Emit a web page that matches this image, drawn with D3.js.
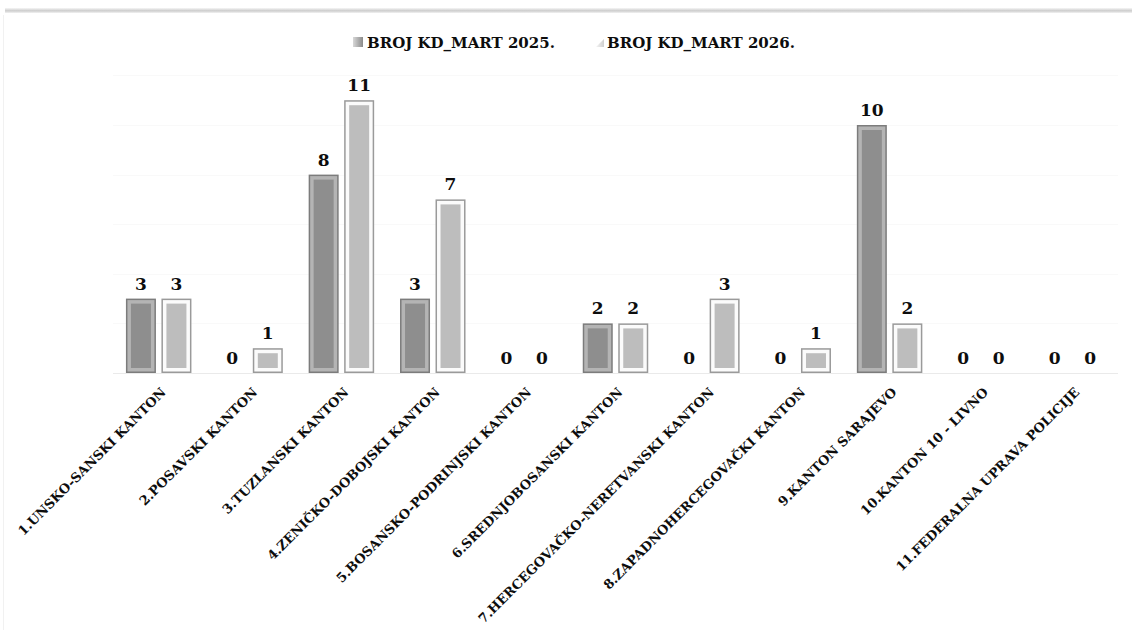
<!DOCTYPE html>
<html>
<head>
<meta charset="utf-8">
<script src="https://cdn.jsdelivr.net/npm/d3@7"></script>
<style>
  body { margin: 0; background: #fff; }
  svg { display: block; }
  text { font-family: "DejaVu Serif", serif; font-weight: bold; fill: #0d0d0d; }
</style>
</head>
<body>
<svg id="chart"></svg>
<script>
var categories = [
    "1.UNSKO-SANSKI KANTON",
    "2.POSAVSKI KANTON",
    "3.TUZLANSKI KANTON",
    "4.ZENIČKO-DOBOJSKI KANTON",
    "5.BOSANSKO-PODRINJSKI KANTON",
    "6.SREDNJOBOSANSKI KANTON",
    "7.HERCEGOVAČKO-NERETVANSKI KANTON",
    "8.ZAPADNOHERCEGOVAČKI KANTON",
    "9.KANTON SARAJEVO",
    "10.KANTON 10 - LIVNO",
    "11.FEDERALNA UPRAVA POLICIJE"
];
var seriesNames = ["BROJ KD_MART 2025.", "BROJ KD_MART 2026."];
var values2025 = [3, 0, 8, 3, 0, 2, 0, 0, 10, 0, 0];
var values2026 = [3, 1, 11, 7, 0, 2, 3, 1, 2, 0, 0];
var gridTicks = [0, 2, 4, 6, 8, 10, 12];

var width = 1132, height = 630;
var svg = d3.select("#chart").attr("width", width).attr("height", height);

var defs = svg.append("defs");
var topGrad = defs.append("linearGradient").attr("id", "topEdge")
    .attr("x1", 0).attr("y1", 0).attr("x2", 0).attr("y2", 1);
topGrad.append("stop").attr("offset", "0%").attr("stop-color", "#f6f6f6");
topGrad.append("stop").attr("offset", "55%").attr("stop-color", "#cdcdcd");
topGrad.append("stop").attr("offset", "100%").attr("stop-color", "#f2f2f2");

// frame edges
svg.append("rect").attr("x", 5).attr("y", 8).attr("width", width - 5).attr("height", 5)
    .attr("fill", "url(#topEdge)");
svg.append("line").attr("x1", 3.5).attr("x2", 3.5).attr("y1", 15).attr("y2", height)
    .attr("stroke", "#f1f1f1");

var x0 = d3.scaleBand().domain(categories).range([113, 1118]).paddingInner(0).paddingOuter(0);
var y = d3.scaleLinear().domain([0, 12]).range([373, 75.4]);

// gridlines
svg.append("g").selectAll("line").data(gridTicks).enter().append("line")
    .attr("x1", 113).attr("x2", 1118)
    .attr("y1", d => Math.round(y(d)) + 0.5).attr("y2", d => Math.round(y(d)) + 0.5)
    .attr("stroke", d => d === 0 ? "#eaeaea" : "#f9f9f9");

var barW = 30, gap = 5.5;
var styles = [
    { border: "#7c7c7c", band: "#b4b4b4", fill: "#8e8e8e" },
    { border: "#9a9a9a", band: "#fbfbfb", fill: "#bdbdbd" }
];

function drawBar(g, xLeft, v, s) {
    if (v <= 0) return;
    var top = y(v), h = y(0) - top;
    g.append("rect").attr("x", xLeft).attr("y", top).attr("width", barW).attr("height", h)
        .attr("fill", s.border);
    g.append("rect").attr("x", xLeft + 1.5).attr("y", top + 1.5)
        .attr("width", barW - 3).attr("height", Math.max(0, h - 3)).attr("fill", s.band);
    g.append("rect").attr("x", xLeft + 5).attr("y", top + 5)
        .attr("width", barW - 10).attr("height", Math.max(0, h - 10)).attr("fill", s.fill);
}

var bars = svg.append("g");
categories.forEach(function(c, i) {
    var cx = x0(c) + x0.bandwidth() / 2;
    var xs = [cx - gap / 2 - barW, cx + gap / 2];
    [values2025[i], values2026[i]].forEach(function(v, k) {
        drawBar(bars, xs[k], v, styles[k]);
        bars.append("text")
            .attr("x", xs[k] + barW / 2)
            .attr("y", y(v) - 9)
            .attr("text-anchor", "middle")
            .attr("font-size", "17px")
            .text(v);
    });
});

// category labels
svg.append("g").selectAll("text").data(categories).enter().append("text")
    .attr("transform", d => "translate(" + (x0(d) + x0.bandwidth() / 2 + 8) + ",393) rotate(-45)")
    .attr("text-anchor", "end")
    .attr("font-size", "13px")
    .text(d => d);

// legend
var lg = defs.append("linearGradient").attr("id", "lg0").attr("x1", 0).attr("y1", 0).attr("x2", 1).attr("y2", 0);
lg.append("stop").attr("offset", "0%").attr("stop-color", "#d8d8d8");
lg.append("stop").attr("offset", "100%").attr("stop-color", "#8a8a8a");
var lg1 = defs.append("linearGradient").attr("id", "lg1").attr("x1", 0).attr("y1", 0).attr("x2", 1).attr("y2", 0);
lg1.append("stop").attr("offset", "0%").attr("stop-color", "#f4f4f4");
lg1.append("stop").attr("offset", "100%").attr("stop-color", "#cfcfcf");

var legendX = [353, 593];
seriesNames.forEach(function(n, k) {
    if (k === 0) {
        svg.append("rect").attr("x", legendX[k]).attr("y", 37).attr("width", 10).attr("height", 10)
            .attr("fill", "url(#lg0)");
    } else {
        svg.append("path")
            .attr("d", "M" + (legendX[k] + 3) + ",47 L" + (legendX[k] + 11) + ",39 L" + (legendX[k] + 11) + ",47 Z")
            .attr("fill", "url(#lg1)");
    }
    svg.append("text").attr("x", legendX[k] + 14).attr("y", 47.5)
        .attr("font-size", "15px").text(n);
});
</script>
</body>
</html>
